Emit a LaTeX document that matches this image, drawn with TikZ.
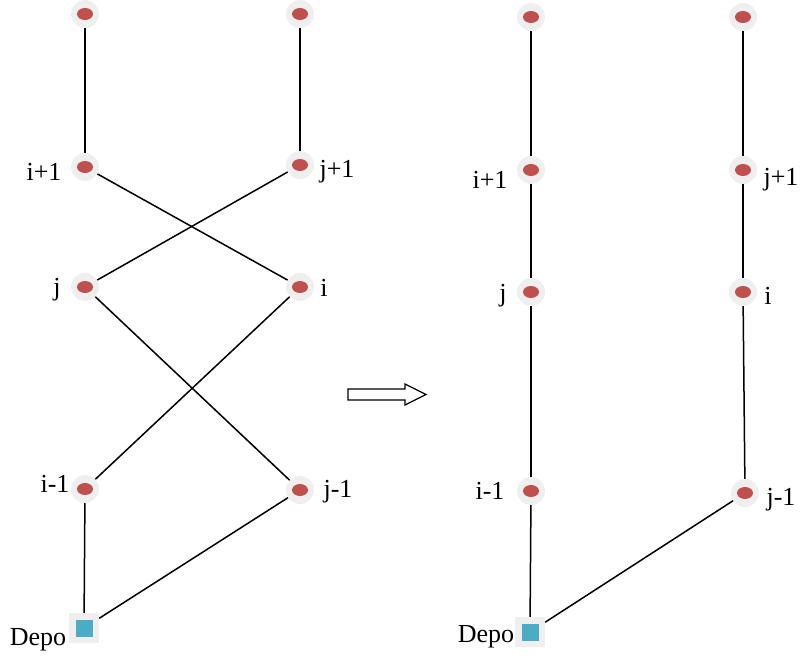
\documentclass[tikz,border=0pt]{standalone}
\usepackage{fontspec}
\setmainfont{Liberation Serif}
\definecolor{halo}{HTML}{EFEFEF}
\definecolor{stopred}{HTML}{C0504D}
\definecolor{depoblue}{HTML}{4BACC6}
\begin{document}
\begin{tikzpicture}[x=1pt,y=-1pt,
  stop/.style={circle,fill=halo,inner sep=0pt,minimum size=28pt,
    path picture={\fill[stopred] (path picture bounding box.center) ellipse (8pt and 6pt);}},
  depot/.style={rectangle,fill=halo,inner sep=0pt,minimum size=30pt,
    path picture={\fill[depoblue] ([xshift=-8.5pt,yshift=-8.5pt]path picture bounding box.center) rectangle ++(17pt,17pt);}},
  lbl/.style={inner sep=0pt,font=\fontsize{26}{30}\selectfont},
  edge/.style={line width=1.5pt,black}]
\useasboundingbox (0,0) rectangle (805,669);

% left tour (crossing edges)
\node[stop] (La) at (85,14) {};
\node[stop] (Lb) at (300,14) {};
\node[stop] (Lip) at (85,167) {};
\node[stop] (Ljp) at (300,165) {};
\node[stop] (Lj) at (85,287) {};
\node[stop] (Li) at (300,287) {};
\node[stop] (Lim) at (85,489) {};
\node[stop] (Ljm) at (300,490) {};
\node[depot] (LD) at (84,628) {};

% right tour (after the exchange)
\node[stop] (Ra) at (531,17) {};
\node[stop] (Rb) at (743,17) {};
\node[stop] (Rip) at (531,170) {};
\node[stop] (Rjp) at (743,170) {};
\node[stop] (Rj) at (531,292) {};
\node[stop] (Ri) at (743,292) {};
\node[stop] (Rim) at (531,491) {};
\node[stop] (Rjm) at (745,493) {};
\node[depot] (RD) at (530,632) {};

% edges
\draw[edge] (La) -- (Lip);
\draw[edge] (Lb) -- (Ljp);
\draw[edge] (Lip) -- (Li);
\draw[edge] (Ljp) -- (Lj);
\draw[edge] (Lj) -- (Ljm);
\draw[edge] (Li) -- (Lim);
\draw[edge] (Lim) -- (LD);
\draw[edge] (Ljm) -- (LD);

\draw[edge] (Ra) -- (Rip);
\draw[edge] (Rip) -- (Rj);
\draw[edge] (Rj) -- (Rim);
\draw[edge] (Rim) -- (RD);
\draw[edge] (Rb) -- (Rjp);
\draw[edge] (Rjp) -- (Ri);
\draw[edge] (Ri) -- (Rjm);
\draw[edge] (Rjm) -- (RD);

% labels
\node[lbl] (tLip) at (44,172) {i+1};
\node[lbl] (tLjp) at (337,172) {j+1};
\node[lbl] (tLj) at (57,290) {j};
\node[lbl] (tLi) at (324,288) {i};
\node[lbl] (tLim) at (55,484) {i-1};
\node[lbl] (tLjm) at (338,492) {j-1};
\node[lbl] (tLD) at (38,640) {Depo};

\node[lbl] (tRip) at (490,180) {i+1};
\node[lbl] (tRjp) at (781,180) {j+1};
\node[lbl] (tRj) at (503,296) {j};
\node[lbl] (tRi) at (768,296) {i};
\node[lbl] (tRim) at (490,491) {i-1};
\node[lbl] (tRjm) at (781,500) {j-1};
\node[lbl] (tRD) at (486,637) {Depo};

% hollow block arrow
\draw[line width=1.2pt,fill=white] (348,389) -- (405,389) -- (405,384) -- (426,394.5)
  -- (405,405) -- (405,400) -- (348,400) -- cycle;
\end{tikzpicture}
\end{document}
